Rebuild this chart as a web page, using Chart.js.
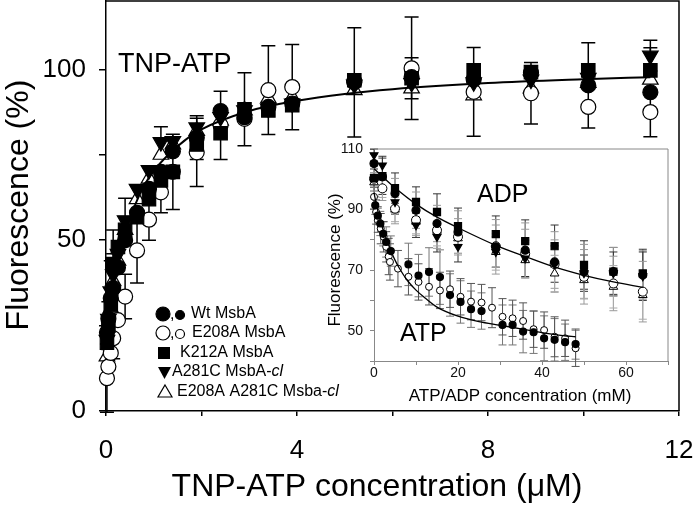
<!DOCTYPE html>
<html><head><meta charset="utf-8">
<script src="https://cdn.jsdelivr.net/npm/chart.js@4.4.1/dist/chart.umd.min.js"></script>
<style>
html,body{margin:0;padding:0;background:#fff;}
#wrap{position:relative;width:693px;height:511px;overflow:hidden;}
#main{position:absolute;left:0;top:0;}
#inset{position:absolute;left:320px;top:135px;}
</style></head><body>
<div id="wrap"><canvas id="main" width="693" height="511"></canvas><canvas id="inset" width="360" height="275"></canvas></div>
<script>
// ===== Main chart data (TNP-ATP, µM) =====
const mainX = [0.02,0.05,0.1,0.15,0.25,0.4,0.65,0.9,1.15,1.4,1.9,2.4,2.9,3.4,3.9,5.2,6.4,7.7,8.9,10.1,11.4];
const wtY     = [23,27,33,36,42,50,58,65,70,76,80,87.8,86,89,90,96.2,97.7,97,99,95.3,93.3];
const wtErr   = [null,null,null,10,null,null,null,null,null,null,6.4,null,null,null,null,16,null,null,null,12.5,13];
const e208Y   = [9.6,13,17,21.3,26.6,33.5,47,56,64,70,75.7,83.6,85.5,93.9,94.8,96.5,100.3,93.4,93,89,87.5];
const e208Err = [10,null,null,6,null,6.5,9.5,6,6,11,10,10,null,13,12.5,null,15,13,9,null,null];
const k212Y   = [20,25,31,43,48,53,56.7,62,67.5,70,78,81.3,88.3,88,89.5,96.8,97.4,99.7,99.2,99.7,99.7];
const k212Err = [null,7,null,10,null,null,null,null,null,null,null,null,10.7,null,null,null,6,null,null,null,null];
const a281Y   = [20.8,27,35,40,46,55.8,65,70.5,78.7,79,83,86,88,88.5,90,95.5,96,96.2,97,97.5,104];
const a281Err = [null,null,9,null,null,6.5,null,null,4.5,null,null,null,null,null,null,null,null,null,null,null,4.5];
const e2a281Y = [16,24,30,38,44,53,62,68,75,78,82,85,88,91.5,91.8,93.9,94.4,92.4,94.4,96,97];
const e2a281Err=[6,null,null,null,null,null,null,null,null,null,null,null,null,null,null,null,null,null,null,null,null];
const fitX = [0,0.1,0.2,0.4,0.6,0.8,1,1.5,2,3,4,5,6,8,10,11.4];
const fitY = [20,31,39.5,51.5,60,66,70.3,77.5,82.4,87.8,90.8,92.8,94.2,96,97.1,97.7];
const mainXTicks = [0,4,8,12];
const mainYTicks = [0,50,100];
const legendLabels = ["Wt MsbA","E208A MsbA","K212A MsbA","A281C MsbA-","E208A A281C Msba-"];

// ===== Inset data (ATP / ADP, mM) =====
const adpX      = [0,2,5,10,15,20,29,36,43,50,57,64];
const adpWt     = [105.2,100.8,95.3,89.8,85.4,82.6,77.7,76.6,72.7,69.5,69.5,68.4];
const adpWtErr  = [3,4,5,6,6,7,9,9,10,9,8,8];
const adpE208   = [100.2,97,90.3,86.5,83.2,81,77.9,75.5,72,67.8,65.6,62.9];
const adpE208Err= [4,4,5,5,6,6,7,8,8,9,9,10];
const adpK212   = [100.4,101,97.1,92.5,89.2,84.5,81.9,79.6,77.9,71.7,69.5,68.9];
const adpK212Err= [3,6,5,5,6,6,6,7,7,8,8,8];
const adpA281   = [108,104.6,92.5,84.8,81,77.7,76,73.9,72,69,69,68];
const adpA281Err= [2,3,4,4,5,5,5,6,6,6,7,8];
const adpE2A281 = [99,97,90,86,83,80.5,76,73.3,68.9,66.7,64.5,61.8];
const adpE2A281Err=[3,3,4,4,5,5,6,6,6,6,7,8];
const adpFitX = [0,2,5,10,15,20,29,36,43,50,57,64];
const adpFitY = [103.5,100.9,97.2,91.8,87.5,84,78.2,74.5,71,68.3,66.1,64.3];

const atpWtX  = [0.3,0.9,1.5,2.2,2.9,4,8.2,10.6,13.1,15.7,18.1,20.6,23.1,25.6,30.6,33,35.5,38,40.5,43,45.5,48];
const atpWtY  = [91.4,88,85.4,82,79.3,76.3,71.9,68.2,69.4,67.7,61.8,59.5,57.1,56.5,51.9,51.9,49.7,49.5,47.5,47,46.2,45.6];
const atpWtErr= [3,3,4,4,5,5,7,7,8,9,7,7,6,6,6.6,6.6,7,7,7.4,7,6,5];
const atpE208X  = [0,0.5,0.9,1.6,2.3,2.9,3.5,3.8,5.7,8.2,10.6,13.1,15.7,18.1,20.6,23.1,25.6,28.1,30.6,33,35.5,38,40.5,43,45.5,48];
const atpE208Y  = [94.2,89.2,86.5,83.7,81,77.7,74.5,72.7,70.5,67.8,66.1,64.5,63.3,63.7,61.2,59.6,59.3,57.6,54.6,54.1,53.2,50.5,50.2,48,47.5,44.2];
const atpE208Err= [4,4,4,5,5,5,6,6,6,6,6,6,6,6,6,6,6,6.6,6,6,6,6,6,6.6,6,6];
const atpFitX = [0,1,2,3,4,5,6,8,10,12,15,20,25,30,35,40,45,48];
const atpFitY = [95.5,89,84,80,76.5,73.3,70.7,66.5,63.4,61,57.8,54.8,53,51.8,50.6,49.4,48.4,48];
const insetXTicks = [0,20,40,60];
const insetYTicks = [50,70,90,110];

// ===== helpers =====
const FONT = "'Liberation Sans', Arial, Helvetica, sans-serif";
function pts(xs, ys){ return xs.map((x,i)=>({x:x, y:ys[i]})); }

const errPlugin = {
  id:'errbars',
  beforeDatasetsDraw(chart){
    const ctx = chart.ctx, xs = chart.scales.x, ys = chart.scales.y;
    chart.data.datasets.forEach(ds=>{
      if(!ds.errors) return;
      ctx.save();
      ctx.strokeStyle = ds.errColor || '#000';
      ctx.lineWidth = ds.errWidth || 1.5;
      const c = ds.capW || 7;
      ds.data.forEach((p,j)=>{
        const e = ds.errors[j]; if(e==null) return;
        const px = xs.getPixelForValue(p.x), t = ys.getPixelForValue(p.y+e), b = ys.getPixelForValue(p.y-e);
        ctx.beginPath();
        ctx.moveTo(px,t); ctx.lineTo(px,b);
        ctx.moveTo(px-c,t); ctx.lineTo(px+c,t);
        ctx.moveTo(px-c,b); ctx.lineTo(px+c,b);
        ctx.stroke();
      });
      ctx.restore();
    });
  }
};

function framePlugin(color, width, fillWhite){
  return {
    id:'frame',
    beforeDraw(chart){
      if(!fillWhite) return;
      const a = chart.chartArea, ctx = chart.ctx;
      ctx.save(); ctx.fillStyle='#fff'; ctx.fillRect(a.left,a.top,a.right-a.left,a.bottom-a.top); ctx.restore();
    },
    afterDraw(chart){
      const a = chart.chartArea, ctx = chart.ctx;
      ctx.save(); ctx.strokeStyle=color; ctx.lineWidth=width;
      ctx.beginPath(); ctx.moveTo(a.left,a.top); ctx.lineTo(a.right,a.top); ctx.lineTo(a.right,a.bottom); ctx.stroke();
      ctx.restore();
    }
  };
}

function scatterSet(label, xs, ys, errs, style, opts){
  return Object.assign({
    label:label, data:pts(xs,ys), errors:errs, showLine:false, clip:false,
    pointStyle:style, pointRadius:7.5, pointHoverRadius:7.5,
    pointBackgroundColor:'#000', pointBorderColor:'#000', pointBorderWidth:1.2
  }, opts||{});
}
function fitSet(xs, ys, w){
  return {label:'fit', data:pts(xs,ys), showLine:true, borderColor:'#000', borderWidth:w,
    pointRadius:0, pointHoverRadius:0, cubicInterpolationMode:'monotone', fill:false, clip:false};
}

function axisOpts(min,max,step,labels,fontSize,tickLen,pad,color,lw,fixSize,horizontal){
  return {
    type:'linear', min:min, max:max,
    ticks:{stepSize:step, includeBounds:false, autoSkip:false, maxRotation:0, minRotation:0,
      font:{family:FONT,size:fontSize}, color:color.text, padding:pad,
      callback:v=> labels.includes(v) ? String(v) : ''},
    grid:{drawOnChartArea:false, drawTicks:true, tickLength:tickLen, color:color.line, lineWidth:lw},
    border:{display:true, color:color.line, width:lw},
    afterFit:s=>{ if(horizontal){ s.height=fixSize; } else { s.width=fixSize; }
      s.paddingLeft=0; s.paddingRight=0; s.paddingTop=0; s.paddingBottom=0; }
  };
}

function drawText(ctx, txt, x, y, font, align, rot){
  ctx.save(); ctx.font=font; ctx.fillStyle='#000'; ctx.textAlign=align||'center'; ctx.textBaseline='middle';
  ctx.translate(x,y); if(rot) ctx.rotate(rot); ctx.fillText(txt,0,0); ctx.restore();
}

// ===== main chart =====
const mainText = {
  id:'mainText',
  afterDraw(chart){
    const ctx = chart.ctx;
    drawText(ctx,'Fluorescence (%)',19,205,'32px '+FONT,'center',-Math.PI/2);
    drawText(ctx,'TNP-ATP concentration (\u03bcM)',377,487,'32px '+FONT,'center');
    drawText(ctx,'TNP-ATP',118,65,'27px '+FONT,'left');
    // legend
    const f = '16px '+FONT, fi = 'italic 16px '+FONT;
    const rows = [314,333,353,372,392];
    ctx.save(); ctx.lineWidth=1.2; ctx.strokeStyle='#000';
    const circ=(x,y,r,fill)=>{ctx.beginPath();ctx.arc(x,y,r,0,Math.PI*2);ctx.fillStyle=fill;ctx.fill();ctx.stroke();};
    circ(163,rows[0],7,'#000'); circ(180,rows[0]+1,4.5,'#000');
    circ(163,rows[1],7,'#fff'); circ(180,rows[1]+1,4.5,'#fff');
    ctx.fillStyle='#000'; ctx.fillRect(158,rows[2]-6,12,12);
    ctx.beginPath(); ctx.moveTo(158,rows[3]-5); ctx.lineTo(171,rows[3]-5); ctx.lineTo(164.5,rows[3]+7); ctx.closePath(); ctx.fill();
    ctx.beginPath(); ctx.moveTo(165,rows[4]-7); ctx.lineTo(172,rows[4]+5); ctx.lineTo(158,rows[4]+5); ctx.closePath(); ctx.fillStyle='#fff'; ctx.fill(); ctx.stroke();
    ctx.restore();
    drawText(ctx,',',170,rows[0]+1,f,'left');
    drawText(ctx,',',170,rows[1]+1,f,'left');
    drawText(ctx,legendLabels[0],191,rows[0],f,'left');
    drawText(ctx,legendLabels[1],192,rows[1],f,'left');
    drawText(ctx,legendLabels[2],180,rows[2],f,'left');
    ctx.save(); ctx.font=f; let w3=ctx.measureText(legendLabels[3]).width; let w4=ctx.measureText(legendLabels[4]).width; ctx.restore();
    drawText(ctx,legendLabels[3],172,rows[3],f,'left');
    drawText(ctx,'cl',172+w3,rows[3],fi,'left');
    drawText(ctx,legendLabels[4],177,rows[4],f,'left');
    drawText(ctx,'cl',177+w4,rows[4],fi,'left');
  }
};

new Chart(document.getElementById('main'),{
  type:'scatter',
  data:{datasets:[
    fitSet(fitX,fitY,2),
    scatterSet('Wt MsbA',mainX,wtY,wtErr,'circle',{pointRadius:7.5}),
    scatterSet('K212A MsbA',mainX,k212Y,k212Err,'rect',{pointRadius:9.5}),
    scatterSet('A281C MsbA-cl',mainX,a281Y,a281Err,'triangle',{pointRadius:9,pointRotation:180}),
    scatterSet('E208A MsbA',mainX,e208Y,e208Err,'circle',{pointRadius:7.5,pointBackgroundColor:'#fff'}),
    scatterSet('E208A A281C Msba-cl',mainX,e2a281Y,e2a281Err,'triangle',{pointRadius:9,pointBackgroundColor:'#fff'})
  ]},
  options:{
    responsive:false, animation:false, devicePixelRatio:1,
    layout:{autoPadding:false, padding:{left:0,top:1,right:14,bottom:0}},
    plugins:{legend:{display:false}, tooltip:{enabled:false}},
    scales:{
      x:axisOpts(0,12,2,mainXTicks,26,5,19,{text:'#000',line:'#000'},1.5,100,true),
      y:axisOpts(0,120,25,mainYTicks,26,7,13,{text:'#000',line:'#000'},1.5,106,false)
    }
  },
  plugins:[errPlugin, framePlugin('#000',1.5,false), mainText]
});

// ===== inset chart =====
const insetText = {
  id:'insetText',
  afterDraw(chart){
    const ctx = chart.ctx;
    drawText(ctx,'Fluorescence (%)',15,125,'17px '+FONT,'center',-Math.PI/2);
    drawText(ctx,'ATP/ADP concentration (mM)',200,261,'17px '+FONT,'center');
    drawText(ctx,'ADP',157,60,'25px '+FONT,'left');
    drawText(ctx,'ATP',80,199,'25px '+FONT,'left');
  }
};
const ie = {errWidth:1, capW:4};
new Chart(document.getElementById('inset'),{
  type:'scatter',
  data:{datasets:[
    fitSet(adpFitX,adpFitY,1.3),
    fitSet(atpFitX,atpFitY,1.3),
    scatterSet('ADP K212A',adpX,adpK212,adpK212Err,'rect',Object.assign({pointRadius:5,errColor:'#333'},ie)),
    scatterSet('ADP Wt',adpX,adpWt,adpWtErr,'circle',Object.assign({pointRadius:4,errColor:'#999'},ie)),
    scatterSet('ADP A281C',adpX,adpA281,adpA281Err,'triangle',Object.assign({pointRadius:4.5,pointRotation:180,errColor:'#333'},ie)),
    scatterSet('ADP E208A',adpX,adpE208,adpE208Err,'circle',Object.assign({pointRadius:4.5,pointBackgroundColor:'#fff',pointBorderWidth:1,errColor:'#999'},ie)),
    scatterSet('ADP E208A A281C',adpX,adpE2A281,adpE2A281Err,'triangle',Object.assign({pointRadius:5,pointBackgroundColor:'#fff',pointBorderWidth:1,errColor:'#aaa'},ie)),
    scatterSet('ATP Wt',atpWtX,atpWtY,atpWtErr,'circle',Object.assign({pointRadius:3.5,errColor:'#777'},ie)),
    scatterSet('ATP E208A',atpE208X,atpE208Y,atpE208Err,'circle',Object.assign({pointRadius:3.5,pointBackgroundColor:'#fff',pointBorderWidth:1,errColor:'#555'},ie))
  ]},
  options:{
    responsive:false, animation:false, devicePixelRatio:1,
    layout:{autoPadding:false, padding:{left:0,top:14,right:12,bottom:0}},
    plugins:{legend:{display:false}, tooltip:{enabled:false}},
    scales:{
      x:axisOpts(0,70,10,insetXTicks,14,4,0,{text:'#111',line:'#888'},1,49,true),
      y:axisOpts(40,110,10,insetYTicks,14,4,7,{text:'#111',line:'#888'},1,54,false)
    }
  },
  plugins:[errPlugin, framePlugin('#888',1,true), insetText]
});
</script>
</body></html>
